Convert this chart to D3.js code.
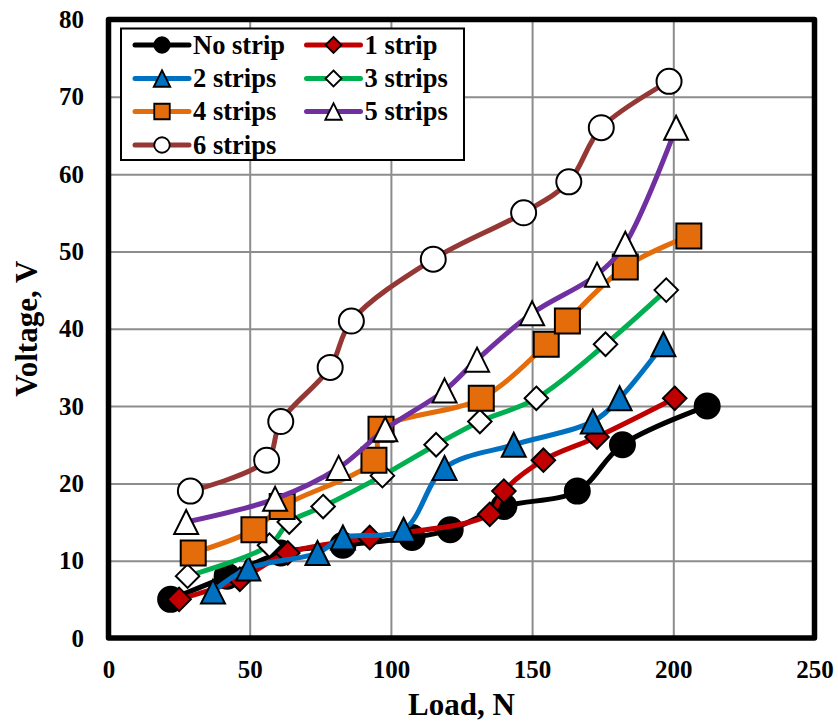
<!DOCTYPE html>
<html>
<head>
<meta charset="utf-8">
<script src="https://cdn.jsdelivr.net/npm/d3@7"></script>
<style>
  html, body { margin: 0; padding: 0; background: #fff; }
  svg { display: block; }
  text { font-family: "Liberation Serif", "Times New Roman", serif; font-weight: bold; fill: #000; }
</style>
</head>
<body>
<svg id="chart" width="838" height="723"></svg>
<script>
// Load (N) and voltage (V) for each strip count
const noStripLoad = [22, 42, 61, 83, 107.5, 121, 140, 166, 182, 212];
const noStripVolt = [5, 8, 11, 12, 13, 14, 17, 19, 25, 30];

const strip1Load = [25, 46.5, 63.5, 92.5, 135, 140, 154, 173, 200.5];
const strip1Volt = [5, 7.6, 11, 13, 16, 19, 23, 26, 31];

const strip2Load = [37, 49.5, 74, 83, 104.5, 119, 143.5, 171.5, 181, 196.5];
const strip2Volt = [6, 9, 11, 13, 14, 22, 25, 28, 31, 38];

const strip3Load = [28, 57, 64, 76, 97, 116, 131.5, 151.5, 176, 197.5];
const strip3Volt = [8, 12, 15, 17, 21, 25, 28, 31, 38, 45];

const strip4Load = [30, 51.5, 61.5, 94, 96.5, 132, 155, 162.5, 183, 205.5];
const strip4Volt = [11, 14, 17, 23, 27, 31, 38, 41, 48, 52];

const strip5Load = [27.5, 59, 81.5, 98, 119, 130.5, 150, 173, 183, 201];
const strip5Volt = [15, 18, 22, 27, 32, 36, 42, 47, 51, 66];

const strip6Load = [29, 56, 61, 78.5, 86, 115, 147, 163, 174.5, 198.5];
const strip6Volt = [19, 23, 28, 35, 41, 49, 55, 59, 66, 72];

const seriesNames = ["No strip", "1 strip", "2 strips", "3 strips", "4 strips", "5 strips", "6 strips"];
const xTicks = [0, 50, 100, 150, 200, 250];
const yTicks = [0, 10, 20, 30, 40, 50, 60, 70, 80];

// Styling per series: line colour, marker shape and fill
const styles = [
  { color: "#000000", shape: "circle",   fill: "#000000" },
  { color: "#C00000", shape: "diamond",  fill: "#C00000" },
  { color: "#0070C0", shape: "triangle", fill: "#0070C0" },
  { color: "#00B050", shape: "diamond",  fill: "#FFFFFF" },
  { color: "#E46C0A", shape: "square",   fill: "#E46C0A" },
  { color: "#7030A0", shape: "triangle", fill: "#FFFFFF" },
  { color: "#953735", shape: "circle",   fill: "#FFFFFF" }
];

const loads = [noStripLoad, strip1Load, strip2Load, strip3Load, strip4Load, strip5Load, strip6Load];
const volts = [noStripVolt, strip1Volt, strip2Volt, strip3Volt, strip4Volt, strip5Volt, strip6Volt];

const series = seriesNames.map((name, i) => ({
  name,
  ...styles[i],
  points: loads[i].map((l, j) => ({ x: l, y: volts[i][j] }))
}));

const svg = d3.select("#chart");
const plotLeft = 108.5, plotRight = 814.5, plotTop = 19.5, plotBottom = 638;

const x = d3.scaleLinear().domain([0, 250]).range([plotLeft, plotRight]);
const y = d3.scaleLinear().domain([0, 80]).range([plotBottom, plotTop]);

// Gridlines
const grid = svg.append("g");
grid.append("g")
  .attr("transform", `translate(0,${plotBottom})`)
  .call(d3.axisBottom(x).tickValues(xTicks).tickSize(-(plotBottom - plotTop)).tickFormat(""))
  .call(g => g.select(".domain").remove())
  .call(g => g.selectAll("line").attr("stroke", "#8c8c8c").attr("stroke-width", 2));
grid.append("g")
  .attr("transform", `translate(${plotLeft},0)`)
  .call(d3.axisLeft(y).tickValues(yTicks).tickSize(-(plotRight - plotLeft)).tickFormat(""))
  .call(g => g.select(".domain").remove())
  .call(g => g.selectAll("line").attr("stroke", "#8c8c8c").attr("stroke-width", 2));

// Tick labels
svg.append("g")
  .attr("transform", `translate(0,${plotBottom})`)
  .call(d3.axisBottom(x).tickValues(xTicks).tickSize(0).tickPadding(22))
  .call(g => g.select(".domain").remove())
  .call(g => g.selectAll("text").attr("font-size", 25).attr("font-family", null));
svg.append("g")
  .attr("transform", `translate(${plotLeft},0)`)
  .call(d3.axisLeft(y).tickValues(yTicks).tickSize(0).tickPadding(24.5))
  .call(g => g.select(".domain").remove())
  .call(g => g.selectAll("text").attr("font-size", 25).attr("font-family", null));

// Plot frame
svg.append("rect")
  .attr("x", plotLeft).attr("y", plotTop)
  .attr("width", plotRight - plotLeft).attr("height", plotBottom - plotTop)
  .attr("fill", "none").attr("stroke", "#000").attr("stroke-width", 5.5)
  .attr("stroke-linejoin", "round");

// Axis titles
svg.append("text")
  .attr("x", (plotLeft + plotRight) / 2).attr("y", 715)
  .attr("text-anchor", "middle").attr("font-size", 31)
  .text("Load, N");
svg.append("text")
  .attr("transform", `translate(37,${(plotTop + plotBottom) / 2}) rotate(-90)`)
  .attr("text-anchor", "middle").attr("font-size", 31)
  .text("Voltage, V");

// Marker path builders (size = full width in px)
function markerPath(shape, s) {
  const h = s / 2;
  if (shape === "circle") return d3.arc()({ innerRadius: 0, outerRadius: h, startAngle: 0, endAngle: 2 * Math.PI });
  if (shape === "diamond") return `M0,${-h}L${h},0L0,${h}L${-h},0Z`;
  if (shape === "square") return `M${-h},${-h}H${h}V${h}H${-h}Z`;
  // triangle, centred on its bounding box
  return `M0,${-h}L${h},${h}L${-h},${h}Z`;
}
const markerSize = { circle: 25, diamond: 23.5, square: 25, triangle: 24 };

const line = d3.line()
  .x(d => x(d.x)).y(d => y(d.y))
  .curve(d3.curveCatmullRom.alpha(0.5));

const plot = svg.append("g");
series.forEach(s => {
  const g = plot.append("g");
  g.append("path")
    .attr("d", line(s.points))
    .attr("fill", "none").attr("stroke", s.color)
    .attr("stroke-width", 5).attr("stroke-linecap", "round").attr("stroke-linejoin", "round");
  g.selectAll("path.m").data(s.points).join("path")
    .attr("class", "m")
    .attr("transform", d => `translate(${x(d.x)},${y(d.y)})`)
    .attr("d", markerPath(s.shape, markerSize[s.shape]))
    .attr("fill", s.fill).attr("stroke", "#000").attr("stroke-width", 2);
});

// Legend
const legend = svg.append("g");
legend.append("rect")
  .attr("x", 121).attr("y", 28.5).attr("width", 343).attr("height", 131.5)
  .attr("fill", "#fff").attr("stroke", "#000").attr("stroke-width", 2);
const colX = [135, 306.5];
const rowY = [45, 78.5, 111.5, 145];
series.forEach((s, i) => {
  const cx = colX[i % 2], cy = rowY[Math.floor(i / 2)];
  const g = legend.append("g").attr("transform", `translate(${cx},${cy})`);
  g.append("line")
    .attr("x1", 0).attr("x2", 54).attr("y1", 0).attr("y2", 0)
    .attr("stroke", s.color).attr("stroke-width", 5).attr("stroke-linecap", "round");
  g.append("path")
    .attr("transform", "translate(27,0)")
    .attr("d", markerPath(s.shape, s.shape === "diamond" ? 16 : s.shape === "triangle" ? 16.5 : 15.5))
    .attr("fill", s.fill).attr("stroke", "#000").attr("stroke-width", 1.8);
  g.append("text")
    .attr("x", 58).attr("y", 0).attr("dy", "0.33em")
    .attr("font-size", 26.5)
    .text(s.name);
});
</script>
</body>
</html>
